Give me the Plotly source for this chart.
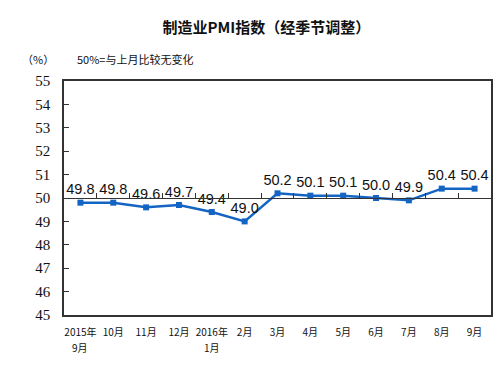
import plotly.graph_objects as go

categories = ["2015年", "10月", "11月", "12月", "2016年", "2月", "3月",
              "4月", "5月", "6月", "7月", "8月", "9月"]
second_line = {0: "9月", 4: "1月"}
pmi_values = [49.8, 49.8, 49.6, 49.7, 49.4, 49.0, 50.2, 50.1, 50.1, 50.0, 49.9, 50.4, 50.4]
value_labels = ["49.8", "49.8", "49.6", "49.7", "49.4", "49.0", "50.2", "50.1", "50.1",
                "50.0", "49.9", "50.4", "50.4"]
y_ticks = list(range(45, 56))

xs = list(range(len(categories)))
line_color = "#1464C4"
tick_font = dict(family="Noto Sans CJK SC", size=10, color="#111")

fig = go.Figure()
fig.add_trace(go.Scatter(
    x=xs, y=pmi_values, mode="lines+markers+text",
    line=dict(color=line_color, width=2.5),
    marker=dict(symbol="square", size=6, color=line_color),
    text=value_labels, textposition="top center",
    textfont=dict(family="Liberation Sans, Arial", size=14.5, color="#111"),
    cliponaxis=False, showlegend=False,
))
fig.add_trace(go.Scatter(x=xs, y=pmi_values, xaxis="x2", mode="none",
                         showlegend=False, hoverinfo="skip"))

fig.update_layout(
    width=498, height=367, autosize=False,
    margin=dict(l=64, r=7, t=81, b=52, autoexpand=False),
    plot_bgcolor="white", paper_bgcolor="white",
    title=dict(text="制造业PMI指数（经季节调整）", x=0.535, xanchor="center",
               y=0.925, yanchor="middle",
               font=dict(family="Noto Sans CJK SC", size=15, color="#111", weight=600)),
    xaxis=dict(range=[-0.5, 12.5], tickmode="array", tickvals=xs, ticktext=categories,
               showline=True, linecolor="#333", linewidth=1.5, mirror=True,
               ticks="", showgrid=False, zeroline=False, automargin=False,
               domain=[0, 1], ticklabelstandoff=7, tickfont=tick_font),
    xaxis2=dict(range=[-0.5, 12.5], overlaying="x", anchor="free", position=0.5,
                side="bottom", tickmode="array", domain=[0, 1],
                tickvals=[i + 0.5 for i in range(12)], automargin=False,
                showticklabels=False, ticks="inside", ticklen=5, tickcolor="#333",
                showline=True, linecolor="#333", linewidth=1, showgrid=False,
                zeroline=False),
    yaxis=dict(range=[45, 55], tickmode="array", tickvals=y_ticks,
               showline=True, linecolor="#333", linewidth=1.5, mirror=True,
               ticks="inside", ticklen=5, tickcolor="#333", showgrid=False,
               zeroline=False, ticklabelstandoff=9, automargin=False,
               tickfont=dict(family="Liberation Serif, Times New Roman", size=15, color="#111")),
)

for i, txt in second_line.items():
    fig.add_annotation(text=txt, x=i, xref="x", y=-0.137, yref="paper",
                       xanchor="center", yanchor="middle", showarrow=False,
                       font=tick_font)

fig.add_annotation(text="（%）", xref="paper", yref="paper", x=-0.06, y=1.095,
                   xanchor="center", yanchor="middle", showarrow=False,
                   font=dict(family="Noto Sans CJK SC", size=11, color="#111"))
fig.add_annotation(text="50%=与上月比较无变化", xref="paper", yref="paper", x=0.025, y=1.095,
                   xanchor="left", yanchor="middle", showarrow=False,
                   font=dict(family="Noto Sans CJK SC", size=11, color="#111"))

fig.write_html("out.html", config={"displayModeBar": False},
               post_script="document.body.style.margin='0';document.body.style.overflow='hidden';")
